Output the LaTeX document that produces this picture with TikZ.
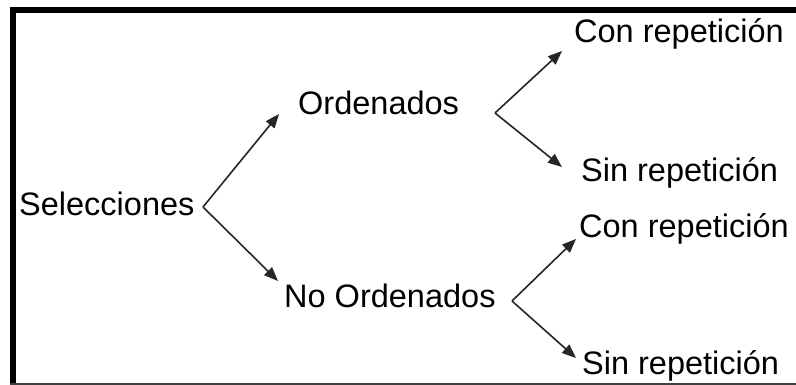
\documentclass[tikz,border=0pt]{standalone}
\usepackage{fontspec}
\setmainfont{Liberation Sans}
\usetikzlibrary{arrows.meta}
\begin{document}
\begin{tikzpicture}[x=1pt,y=-1pt,
  label/.style={anchor=base west,inner sep=0pt,font=\fontsize{32.5}{38}\selectfont},
  branch/.style={line width=1.6pt,draw=black!85,-{Triangle[length=14pt,width=11pt]}}]
\useasboundingbox (0,0) rectangle (796,385);
\fill[white] (0,0) rectangle (796,385);
% frame: heavy top and left rules, thin bottom rule
\fill[black] (10,7) rectangle (15.5,385);
\fill[black] (10,7) rectangle (796,13);
\draw[black!75,line width=1.2pt] (10,384) -- (796,384);

% labels
\node[label] (sel) at (19,215) {Selecciones};
\node[label] (ord) at (298,115) {Ordenados};
\node[label] (nord) at (284,307) {No Ordenados};
\node[label] (ocon) at (574,43) {Con repetición};
\node[label] (osin) at (581,182) {Sin repetición};
\node[label] (ncon) at (579,237) {Con repetición};
\node[label] (nsin) at (582,374) {Sin repetición};

% fork points and arrow tips
\coordinate (selfork) at (203,207);
\coordinate (ordtip) at (279,114);
\coordinate (nordtip) at (278,281);
\coordinate (ordfork) at (495,113);
\coordinate (ocontip) at (562,51);
\coordinate (osintip) at (562,167);
\coordinate (nordfork) at (512,301);
\coordinate (ncontip) at (576,239);
\coordinate (nsintip) at (576,358);

\draw[branch] (selfork) -- (ordtip);
\draw[branch] (selfork) -- (nordtip);
\draw[branch] (ordfork) -- (ocontip);
\draw[branch] (ordfork) -- (osintip);
\draw[branch] (nordfork) -- (ncontip);
\draw[branch] (nordfork) -- (nsintip);
\end{tikzpicture}
\end{document}
